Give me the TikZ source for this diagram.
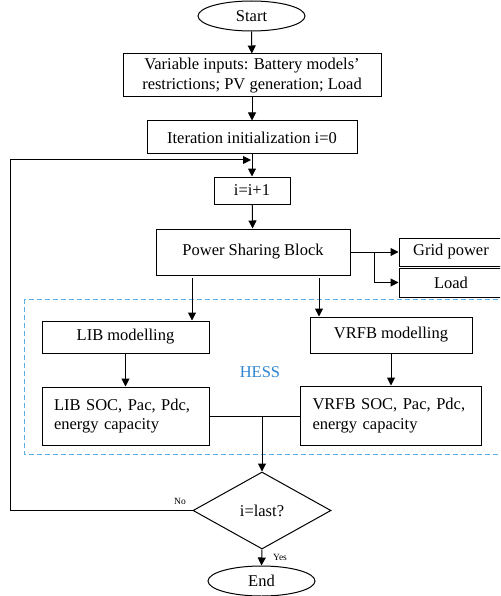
\documentclass[tikz,border=0pt]{standalone}
\usepackage{fontspec}
\setmainfont{Liberation Serif}
\usetikzlibrary{arrows.meta,shapes.geometric,calc}
\definecolor{hessline}{HTML}{5AAFE6}
\definecolor{hesstext}{HTML}{2E86D0}
\begin{document}
\begin{tikzpicture}[x=1pt,y=-1pt,
  every node/.style={font=\fontsize{16.5}{19.5}\selectfont, line width=1pt},
  box/.style={draw, rectangle, inner sep=0pt, align=center},
  term/.style={draw, ellipse, inner sep=0pt, minimum width=107pt, minimum height=30pt},
  decision/.style={draw, diamond, inner sep=0pt, minimum width=138pt, minimum height=77pt},
  arr/.style={line width=1pt, -{Triangle[length=8pt,width=8pt]}},
  ln/.style={line width=1pt},
  small/.style={font=\fontsize{9.5}{11}\selectfont, inner sep=1pt}]
\clip (0,0) rectangle (500,596);
\fill[white] (0,0) rectangle (500,596);

% HESS dashed region
\draw[hessline, line width=1pt, dash pattern=on 5pt off 3pt] (24,299) rectangle (530,454);
\node[text=hesstext] (hess) at (260,372) {HESS};

\node[term] (start) at (251.5,16) {Start};
\node[box, minimum width=258pt, minimum height=43pt] (vin) at (252,75.5)
  {Variable inputs: Battery models’\\restrictions; PV generation; Load};
\node[box, minimum width=210pt, minimum height=33pt] (iter) at (252,137.5) {Iteration initialization i=0};
\node[box, minimum width=76pt, minimum height=27pt] (inc) at (252,190.5) {i=i+1};
\node[box, minimum width=194pt, minimum height=46pt] (psb) at (253,252) {Power Sharing Block};
\node[box, minimum width=104pt, minimum height=28pt] (grid) at (451,252) {Grid power};
\node[box, minimum width=104pt, minimum height=29pt] (load) at (451,282.5) {Load};
\node[box, minimum width=167pt, minimum height=32pt] (lib) at (125.5,337) {LIB modelling};
\node[box, minimum width=162pt, minimum height=36pt] (vrfb) at (391,335) {VRFB modelling};
\node[box, minimum width=167pt, minimum height=58pt, text width=143pt, align=left] (libsoc) at (125.5,416)
  {LIB SOC, Pac, Pdc,\\energy capacity};
\node[box, minimum width=181pt, minimum height=59pt, text width=157pt, align=left] (vrfbsoc) at (391,415.5)
  {VRFB SOC, Pac, Pdc,\\energy capacity};
\node[decision] (dec) at (262,510.5) {i=last?};
\node[term] (end) at (261.5,581) {End};

\coordinate (fb) at (251,160);
\coordinate (br) at (374,252);
\coordinate (pl) at (192,278);
\coordinate (pr) at (319,278);
\coordinate (jn) at (dec.north |- libsoc.east);
\coordinate (lc) at (10,510.5);

\draw[arr] (start) -- (vin);
\draw[arr] (vin) -- (iter);
\draw[arr] (iter) -- (inc);
\draw[arr] (inc) -- (psb);
\draw[arr] (psb.east) -- (grid.west);
\draw[arr] (br) |- (load.west);
\draw[arr] (pl) -- (pl |- lib.north);
\draw[arr] (pr) -- (pr |- vrfb.north);
\draw[arr] (lib) -- (libsoc);
\draw[arr] (vrfb) -- (vrfbsoc);
\draw[ln] (libsoc.east) -- (libsoc.east -| vrfbsoc.west);
\draw[arr] (jn) -- (dec.north);
\draw[arr] (dec.west) -- (lc) |- (fb);
\draw[arr] (dec.south) -- (end.north);
\node[small] (no) at (180,501) {No};
\node[small] (yes) at (280,557) {Yes};
\end{tikzpicture}
\end{document}
